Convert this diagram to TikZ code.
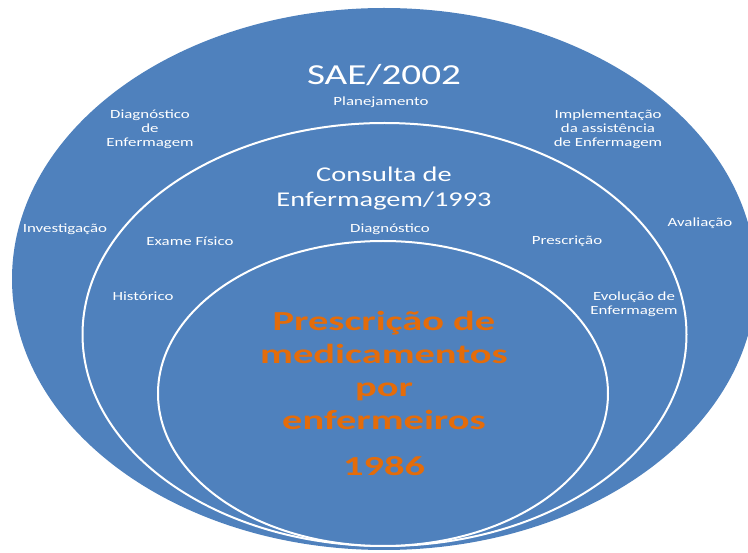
\documentclass[tikz,border=0pt]{standalone}
\usepackage{fontspec}
\setmainfont{Carlito}[FakeStretch=1.35]
\newfontfamily\corefont{Carlito}[FakeStretch=1.47]
\definecolor{sblue}{HTML}{4F81BD}
\definecolor{sorange}{HTML}{E46C0A}
\begin{document}
\begin{tikzpicture}[x=1pt,y=-1pt,
  ring/.style={draw=white, line width=2pt, fill=sblue},
  lbl/.style={text=white, font=\fontsize{12.5}{14}\selectfont, align=center, inner sep=0pt},
  title/.style={text=white, font=\fontsize{21}{25}\selectfont, align=center, inner sep=0pt},
  core/.style={text=sorange, font=\corefont\bfseries\fontsize{27.5}{33}\selectfont, align=center, inner sep=0pt}]
\useasboundingbox (0,0) rectangle (748,553);
\clip (0,0) rectangle (748,553);
\fill[sblue] (384,279) ellipse [x radius=372, y radius=271];
\draw[ring] (384.5,334.5) ellipse [x radius=302, y radius=211.5];
\draw[ring] (383,393.5) ellipse [x radius=225, y radius=152.5];
% outer ring texts
\node[title, font=\fontsize{29}{33}\selectfont] (sae) at (384,75) {SAE/2002};
\node[lbl] (plan) at (381,102) {Planejamento};
\node[lbl] (diagenf) at (150,129) {Diagnóstico\\de\\Enfermagem};
\node[lbl] (impl) at (608,129) {Implementação\\da assistência\\de Enfermagem};
\node[lbl] (invest) at (65,229) {Investigação};
\node[lbl] (aval) at (700,223) {Avaliação};
% middle ring texts
\node[title] (consulta) at (384,189) {Consulta de\\Enfermagem/1993};
\node[lbl] (exame) at (190,241) {Exame Físico};
\node[lbl] (diag) at (390,229) {Diagnóstico};
\node[lbl] (presc) at (567,241) {Prescrição};
\node[lbl] (hist) at (143,296) {Histórico};
\node[lbl] (evol) at (634,304) {Evolução de\\Enfermagem};
% inner texts
\node[core] (prescmed) at (384,370) {Prescrição de\\medicamentos\\por\\enfermeiros};
\node[core] (ano) at (384,466) {1986};
\end{tikzpicture}
\end{document}
